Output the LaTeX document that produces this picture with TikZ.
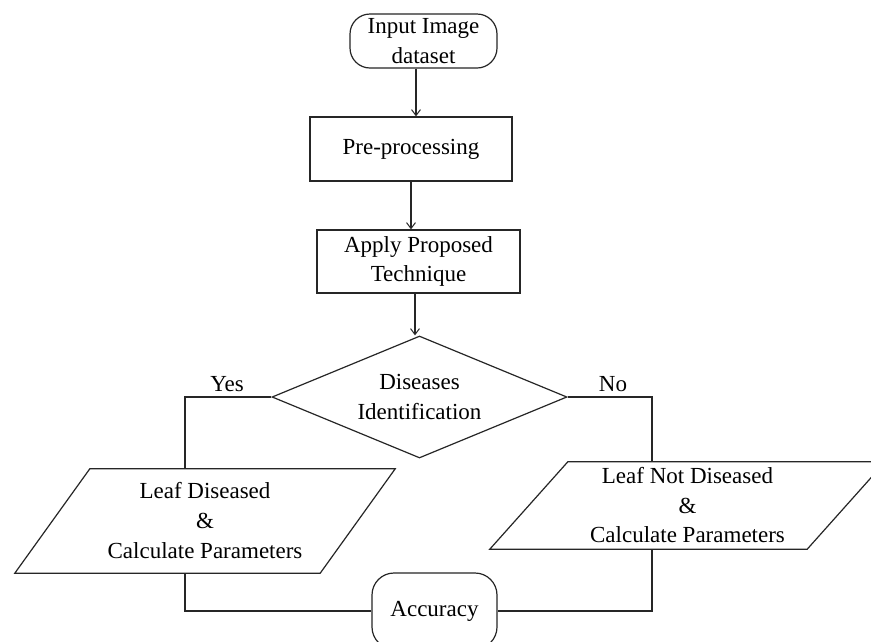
\documentclass[tikz,border=0pt]{standalone}
\usepackage{fontspec}
\setmainfont{Liberation Serif}
\usetikzlibrary{shapes.geometric,arrows.meta,calc}
\begin{document}
\begin{tikzpicture}[x=1pt,y=-1pt,
  every node/.style={font=\fontsize{23}{29.5}\selectfont, align=center, inner sep=0pt},
  ln/.style={line width=1.2pt, draw=black!85},
  arr/.style={ln, -{Straight Barb[length=6pt,width=9pt,line width=1pt]}},
  term/.style={ln, draw, rounded corners=20pt, rectangle},
  procbox/.style={ln, draw, rectangle},
  dec/.style={ln, draw, diamond, aspect=2.42, minimum width=295pt, minimum height=122pt},
  io/.style={rectangle, minimum width=#1},
  lbl/.style={}
]
\useasboundingbox (0,0) rectangle (871,641);
\clip (0,0) rectangle (871,641);
\fill[white] (0,0) rectangle (871,641);

\node[term, minimum width=147pt, minimum height=54pt] (in) at (423.5,41) {Input Image\\dataset};
\node[procbox, minimum width=202pt, minimum height=64pt] (pre) at (411,149) {Pre-processing};
\node[procbox, minimum width=203pt, minimum height=63pt] (ap) at (418.5,261.5) {Apply Proposed\\Technique};
\node[dec] (dia) at (419.5,397) {Diseases\\Identification};

\node[io=305pt, minimum height=104pt] (ld) at (205,521) {Leaf Diseased\\[0.5pt]\&\\[0.5pt]Calculate Parameters};
\draw[ln] ([xshift=37.5pt]ld.north west) -- ([xshift=37.5pt]ld.north east)
  -- ([xshift=-37.5pt]ld.south east) -- ([xshift=-37.5pt]ld.south west) -- cycle;

\node[io=317pt, minimum height=87pt] (nd) at (687.5,505.5) {Leaf Not Diseased\\\&\\Calculate Parameters};
\draw[ln] ([xshift=39pt]nd.north west) -- ([xshift=39pt]nd.north east)
  -- ([xshift=-39pt]nd.south east) -- ([xshift=-39pt]nd.south west) -- cycle;

\node[term, rounded corners=22pt, minimum width=125pt, minimum height=76pt] (acc) at (434.5,611) {Accuracy};

\draw[arr] ([xshift=-7.5pt]in.south) -- ([xshift=-7.5pt]in.south |- pre.north);
\draw[arr] (pre.south) -- (pre.south |- ap.north);
\draw[arr] ([xshift=-3.5pt]ap.south) -- ([xshift=-3.5pt]ap.south |- dia.north);

\draw[ln] (dia.west) -| ([xshift=-20pt]ld.north);
\draw[ln] (dia.east) -| ([xshift=-35.5pt]nd.north);
\draw[ln] ([xshift=-20pt]ld.south) |- (acc.west);
\draw[ln] ([xshift=-35.5pt]nd.south) |- (acc.east);

\node[lbl] (yes) at (227,384) {Yes};
\node[lbl] (no) at (613,384) {No};
\end{tikzpicture}
\end{document}
